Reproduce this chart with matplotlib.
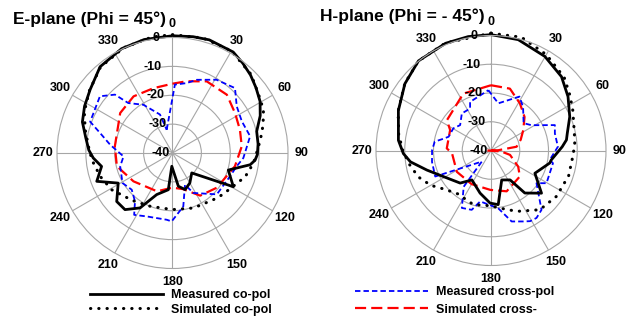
import numpy as np
import matplotlib
matplotlib.use("Agg")
import matplotlib.pyplot as plt
import matplotlib.transforms as mtransforms

plt.rcParams["font.family"] = ["Liberation Sans", "DejaVu Sans"]

# --------------------------------------------------
# pattern data: angle (deg, clockwise from broadside), level (dB)
# --------------------------------------------------

# E-plane (Phi = 45)
e_meas_co_ang = [0, 10, 18, 31, 38, 45, 52, 59.5, 67, 75.6, 84, 91, 95, 98.6, 107, 119,
                 136, 150, 161, 170, 183, 186.5, 200.8, 210.6, 220, 229, 241, 249.5,
                 259.3, 266.4, 272, 280, 289, 298, 307.6, 320, 334, 346, 360]
e_meas_co_db = [0.6, 0.9, 1.2, 0.8, -0.5, -1.8, -3.3, -4.8, -7, -9.9, -10.2, -10.6, -11.3,
                -12.8, -19.8, -15.9, -30.4, -28, -26.6, -28.3, -35.4, -27.2, -24.6, -17.9,
                -14.4, -14.4, -18.5, -12, -15, -12.5, -11, -9.5, -7, -5.5, -4, -1, 0.2,
                0.5, 0.6]

e_sim_co_ang = [0, 15, 30, 45, 56, 64.5, 72, 77.4, 85, 97, 108, 118.6, 130, 138.7, 159,
                180, 202.7, 220, 238.8, 252, 265, 274.5, 285, 295, 307, 320, 335, 350, 360]
e_sim_co_db = [1.0, 1.2, 0.8, -1.5, -4.0, -5.1, -7, -8.3, -10, -11.7, -13.5, -16, -17.5,
               -18.5, -19.6, -20.4, -20, -18.5, -15.4, -13.7, -12, -10.8, -8.7, -6.3, -4,
               -1.2, 0.2, 0.8, 1.0]

e_meas_x_ang = [346, 362, 371.4, 378.3, 391, 403.9, 414, 425.4, 437.8, 454, 461.7, 472,
                493, 512.5, 518.5, 528.6, 540.7, 545, 562, 571.8, 577.8, 588, 599, 615.7,
                626, 637.6, 645.4, 650.8, 668, 675.4, 678.5, 688.9, 702, 706]
e_meas_x_db = [-31.7, -16.3, -15.3, -13.3, -10.4, -8.8, -12.5, -13.6, -12.5, -15.4, -17.3,
               -18.5, -19, -24.4, -28.2, -21.1, -16.3, -16.8, -16.3, -14.8, -18.8, -21,
               -19.8, -21.3, -23, -18.2, -14, -9.5, -8.1, -11.6, -16.9, -20.5, -26, -31.7]

e_sim_x_ang = [0, 11, 25.5, 43, 57.4, 71, 84.5, 102, 128, 147, 164, 180, 202, 234, 256.6,
               276.6, 307.4, 325.5, 343.7, 360]
e_sim_x_db = [-16, -14.7, -12.5, -12.4, -14.3, -15.3, -15.9, -17.9, -20.5, -22.4, -27, -28,
              -25.7, -23.3, -20.2, -19.9, -17.2, -16.2, -16.6, -16]

# H-plane (Phi = -45)
h_meas_co_ang = [0, 13.8, 29.8, 43.7, 55, 66.8, 77.3, 82, 87, 99, 102, 117.4, 130.2, 141.5,
                 147, 160, 172.4, 181, 194.4, 213, 223.4, 241, 253, 262, 268, 276.3, 293.4,
                 307.8, 321, 337, 348.7, 360]
h_meas_co_db = [0.3, -0.3, -2.3, -4.5, -7.3, -10.2, -12.8, -13.5, -15.2, -18.8, -19.1, -22.8,
                -17, -21.1, -27.8, -29.1, -21, -21.7, -24.7, -27.8, -24.4, -21.2, -16.7,
                -11.7, -9.5, -7.6, -4.9, -2.1, 0.1, 0.5, 0.4, 0.3]

h_sim_co_ang = [0, 15, 30, 45, 55, 63.8, 78.5, 86, 94.5, 108, 125, 140.5, 157, 171, 181,
                198, 217.5, 230, 240, 250, 260, 270, 280, 293, 308, 321, 337, 360]
h_sim_co_db = [0.8, 0.8, -1.5, -4, -6.5, -8.3, -10.4, -10.8, -11.5, -11.6, -12.2, -13.3, -17,
               -19.7, -20.8, -20.2, -21, -19, -15.8, -13.1, -11.3, -9.3, -7.4, -4.9, -2, 0.1,
               0.6, 0.8]

h_meas_x_ang = [-2.5, 8.8, 27.8, 36.4, 50, 58, 68.3, 75, 86.8, 99, 101.6, 111, 120.5, 125.7,
                139.6, 146, 151, 155.6, 163.8, 169, 173, 192, 198, 206.9, 217, 219.7, 245,
                259, 270.5, 279, 284, 288, 300.5, 309.4, 321.8, 333.5, 336.7, 357.5]
h_meas_x_db = [-19, -23.4, -18.8, -21.2, -25.2, -23.4, -16.1, -17, -16.7, -19.3, -18, -18.1,
               -17.6, -20.5, -12.9, -11.7, -11.9, -12.9, -14.3, -17.8, -19.8, -21.9, -18.3,
               -17.6, -24.2, -35, -18.6, -19.1, -19.5, -20.2, -23, -24.5, -24.8, -26.1,
               -23.6, -23.7, -21.6, -19]

h_sim_x_ang = [0, 17, 31.6, 45, 57.6, 70, 81.6, 88, 270, 95, 103, 120.7, 132, 159, 181, 210,
               238, 266, 272.8, 296.6, 304.5, 334, 360]
h_sim_x_db = [-17.3, -17.5, -20.8, -23.5, -26.7, -29, -31, -37.5, -38.5, -36.5, -33.2, -29,
              -26.5, -24.8, -26.3, -26.5, -26, -26.4, -24.6, -24.1, -21.4, -18, -17.3]

spoke_angles = np.arange(0, 360, 30)
ring_levels = [-30, -20, -10]
rlabel_levels = [-40, -30, -20, -10, 0]

grid_grey = "#a6a6a6"


# --------------------------------------------------
# helpers
# --------------------------------------------------

def setup_polar(ax):
    ax.set_theta_zero_location("N")
    ax.set_theta_direction(-1)
    ax.set_ylim(-40, 0)
    ax.set_yticks(ring_levels)
    ax.set_yticklabels([])
    ax.set_xticks(np.deg2rad(spoke_angles))
    ax.set_xticklabels([str(a) for a in spoke_angles], fontsize=9, fontweight="bold")
    ax.tick_params(axis="x", length=0, pad=3)
    ax.grid(True, color=grid_grey, lw=0.8)
    ax.spines["polar"].set_color(grid_grey)
    ax.spines["polar"].set_linewidth(0.8)

    off = mtransforms.offset_copy(ax.transData, fig=ax.figure, x=-3, y=0, units="dots")
    for lev in rlabel_levels:
        ax.text(np.deg2rad(-5), lev, str(lev), transform=off,
                ha="right", va="center", fontsize=9, fontweight="bold", zorder=10)


def draw(ax, ang, db, **kw):
    ln, = ax.plot(np.deg2rad(ang), db, clip_on=False, **kw)
    return ln


style_meas_co = dict(color="black", lw=2.0, ls="-")
style_sim_co = dict(color="black", lw=2.2, ls=(0, (0.1, 2.6)), dash_capstyle="round")
style_meas_x = dict(color="#0000ff", lw=1.3, ls=(0, (3, 1.7)))
style_sim_x = dict(color="#ff0000", lw=1.6, ls=(0, (5, 2.3)))


# --------------------------------------------------
# figure
# --------------------------------------------------

fig = plt.figure(figsize=(6.36, 3.2), dpi=100)

ax1 = fig.add_axes([57 / 636, 51.5 / 320, 231 / 636, 231 / 320], projection="polar")
ax2 = fig.add_axes([376 / 636, 54.5 / 320, 230 / 636, 230 / 320], projection="polar")

for ax in (ax1, ax2):
    setup_polar(ax)

# E-plane
draw(ax1, e_sim_x_ang, e_sim_x_db, **style_sim_x)
draw(ax1, e_meas_x_ang, e_meas_x_db, **style_meas_x)
l_sim_co = draw(ax1, e_sim_co_ang, e_sim_co_db, **style_sim_co)
l_meas_co = draw(ax1, e_meas_co_ang, e_meas_co_db, **style_meas_co)

# H-plane
l_sim_x = draw(ax2, h_sim_x_ang, h_sim_x_db, **style_sim_x)
l_meas_x = draw(ax2, h_meas_x_ang, h_meas_x_db, **style_meas_x)
draw(ax2, h_sim_co_ang, h_sim_co_db, **style_sim_co)
draw(ax2, h_meas_co_ang, h_meas_co_db, **style_meas_co)

fig.text(13 / 636, 1 - 24 / 320, "E-plane (Phi = 45°)",
         fontsize=12.5, fontweight="bold", va="baseline")
fig.text(320 / 636, 1 - 21 / 320, "H-plane (Phi = - 45°)",
         fontsize=12.5, fontweight="bold", va="baseline")

leg_kw = dict(frameon=False, loc="upper left", bbox_transform=fig.transFigure,
              borderpad=0, borderaxespad=0, handlelength=5.8, handletextpad=0.7,
              prop={"size": 9, "weight": "bold"})

ax1.legend([l_meas_co, l_sim_co], ["Measured co-pol", "Simulated co-pol"],
           bbox_to_anchor=(90 / 636, 1 - 289 / 320), labelspacing=0.2, **leg_kw)
ax2.legend([l_meas_x, l_sim_x], ["Measured cross-pol", "Simulated cross-"],
           bbox_to_anchor=(355 / 636, 1 - 286 / 320), labelspacing=0.45, **leg_kw)

fig.savefig("out.png", dpi=100)
